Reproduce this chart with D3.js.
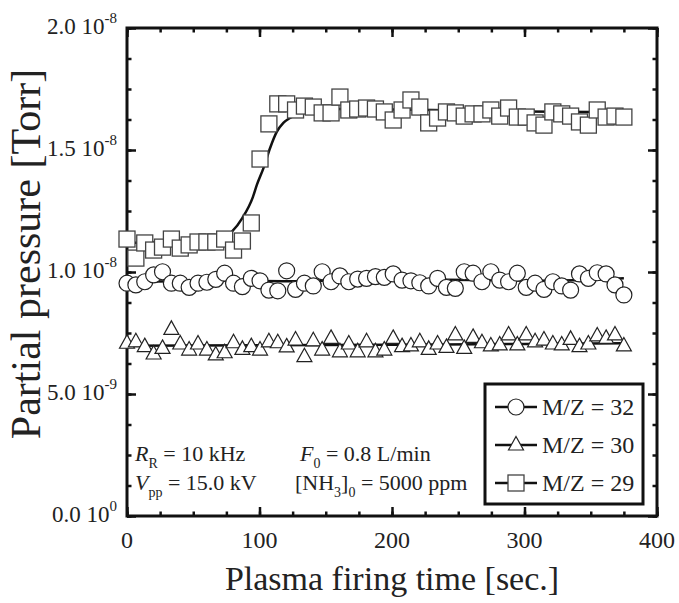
<!DOCTYPE html>
<html lang="en">
<head>
<meta charset="UTF-8">
<title>Partial pressure vs plasma firing time</title>
<style>
  body { margin: 0; background: #fff; }
  svg { display: block; font-family: "Liberation Serif", "Times New Roman", serif; }
</style>
</head>
<body>
<svg id="chart" width="679" height="603"></svg>
<script src="https://d3js.org/d3.v7.min.js"></script>
<script>
// sampling times [sec.]
var times = [0, 6.7, 13.4, 20.1, 26.8, 33.5, 40.2, 46.9, 53.6, 60.3, 67, 73.7, 80.4, 87.1, 93.8,
  100.4, 107.1, 113.8, 120.5, 127.2, 133.9, 140.6, 147.3, 154, 160.7, 167.4, 174.1, 180.8, 187.5,
  194.2, 200.9, 207.6, 214.3, 221, 227.7, 234.4, 241.1, 247.8, 254.5, 261.2, 267.9, 274.6, 281.3,
  288, 294.6, 301.3, 308, 314.7, 321.4, 328.1, 334.8, 341.5, 348.2, 354.9, 361.6, 368.3, 375];

// partial pressures, in units of 1e-9 Torr
var mz32 = [9.54, 9.47, 9.60, 9.88, 10.01, 9.54, 9.54, 9.37, 9.54, 9.58, 9.70, 9.95, 9.54, 9.40, 9.74,
  9.64, 9.26, 9.23, 10.05, 9.29, 9.54, 9.43, 10.01, 9.60, 9.84, 9.60, 9.71, 9.74, 9.81, 9.78, 9.92,
  9.67, 9.64, 9.56, 9.43, 9.74, 9.37, 9.33, 10.01, 9.95, 9.60, 10.01, 9.67, 9.60, 9.95, 9.37, 9.54,
  9.29, 9.60, 9.43, 9.26, 9.92, 9.74, 9.97, 9.92, 9.47, 9.06];
var mz30 = [7.08, 7.14, 6.94, 6.64, 6.87, 7.65, 7.05, 6.80, 7.05, 6.80, 6.60, 6.69, 7.10, 6.83, 6.94,
  6.80, 7.14, 7.10, 6.93, 7.21, 6.53, 7.18, 6.80, 7.28, 6.73, 7.05, 6.73, 7.14, 6.73, 6.80, 7.28,
  6.94, 6.97, 7.14, 6.83, 7.05, 6.91, 7.42, 6.87, 7.32, 7.10, 6.97, 7.01, 7.42, 7.01, 7.42, 7.14,
  7.21, 7.05, 7.01, 7.24, 6.94, 7.05, 7.38, 7.28, 7.42, 6.97];
var mz29 = [11.35, 10.57, 11.19, 10.90, 11.02, 11.35, 10.98, 11.11, 11.23, 11.23, 11.23, 11.35, 10.90,
  11.27, 12.01, 14.63, 16.07, 16.89, 16.89, 16.64, 16.80, 16.76, 16.52, 16.52, 17.17, 16.64, 16.68,
  16.72, 16.68, 16.56, 16.23, 16.64, 17.05, 16.76, 16.11, 16.31, 16.56, 16.52, 16.39, 16.48, 16.48,
  16.64, 16.39, 16.72, 16.35, 16.35, 16.11, 16.02, 16.56, 16.48, 16.39, 16.15, 16.02, 16.64, 16.35,
  16.39, 16.35];

// fitted curves
var fit32T = [0, 40, 80, 120, 160, 200, 240, 280, 320, 360, 375];
var fit32V = [9.60, 9.62, 9.64, 9.62, 9.66, 9.70, 9.68, 9.66, 9.64, 9.70, 9.74];
var fit30T = [0, 100, 200, 300, 375];
var fit30V = [6.98, 7.00, 7.02, 7.05, 7.08];
var fit29T = [0, 40, 60, 70, 79, 87, 95, 98, 103, 108, 113, 118, 123, 134, 153, 200, 250, 300, 375];
var fit29V = [11.20, 11.22, 11.25, 11.31, 11.64, 12.21, 13.07, 13.57, 14.26, 15.08, 15.74, 16.11,
  16.31, 16.56, 16.68, 16.66, 16.62, 16.58, 16.55];

var xTicks = [0, 100, 200, 300, 400];
var yTicks = [0, 5, 10, 15, 20];
var yTickMant = ["0.0 10", "5.0 10", "1.0 10", "1.5 10", "2.0 10"];
var yTickExp = ["0", "-9", "-8", "-8", "-8"];
var legendLabels = ["M/Z = 32", "M/Z = 30", "M/Z = 29"];

var svg = d3.select('#chart');
var plotL = 127, plotR = 657, plotT = 28, plotB = 516;

var x = d3.scaleLinear().domain([0, 400]).range([plotL, plotR]);
var y = d3.scaleLinear().domain([0, 20]).range([plotB, plotT]);

// ticks on all four sides, pointing inward
function tickAxis(axisFn, scale, transform, values, len) {
    var g = svg.append('g')
        .attr('transform', transform)
        .call(axisFn(scale).tickValues(values).tickSize(-len).tickFormat(''));
    g.select('.domain').remove();
    g.selectAll('line').attr('stroke', '#111').attr('stroke-width', 2.5);
}
var xMinor = d3.range(0, 401, 25);
var yMinor = d3.range(0, 20.01, 1.25);
tickAxis(d3.axisBottom, x, 'translate(0,' + plotB + ')', xMinor, 4.5);
tickAxis(d3.axisBottom, x, 'translate(0,' + plotB + ')', xTicks, 9);
tickAxis(d3.axisTop, x, 'translate(0,' + plotT + ')', xMinor, 4.5);
tickAxis(d3.axisTop, x, 'translate(0,' + plotT + ')', xTicks, 9);
tickAxis(d3.axisLeft, y, 'translate(' + plotL + ',0)', yMinor, 4.5);
tickAxis(d3.axisLeft, y, 'translate(' + plotL + ',0)', yTicks, 9);
tickAxis(d3.axisRight, y, 'translate(' + plotR + ',0)', yMinor, 4.5);
tickAxis(d3.axisRight, y, 'translate(' + plotR + ',0)', yTicks, 9);

// frame
svg.append('rect')
    .attr('x', plotL).attr('y', plotT)
    .attr('width', plotR - plotL).attr('height', plotB - plotT)
    .attr('fill', 'none').attr('stroke', '#111').attr('stroke-width', 3);

// x tick labels
svg.append('g').selectAll('text').data(xTicks).enter().append('text')
    .attr('x', function(d) { return x(d); })
    .attr('y', plotB + 32)
    .attr('text-anchor', 'middle')
    .attr('font-size', 24)
    .attr('fill', '#222')
    .text(function(d) { return d; });

// y tick labels with exponent
var yl = svg.append('g').selectAll('text').data(yTicks).enter().append('text')
    .attr('x', 117)
    .attr('y', function(d) { return y(d) + 6; })
    .attr('text-anchor', 'end')
    .attr('font-size', 23)
    .attr('fill', '#222');
yl.append('tspan').text(function(d, i) { return yTickMant[i]; });
yl.append('tspan').attr('dy', -11).attr('font-size', 15)
    .text(function(d, i) { return yTickExp[i]; });

// axis titles
svg.append('text')
    .attr('x', (plotL + plotR) / 2)
    .attr('y', 590)
    .attr('text-anchor', 'middle')
    .attr('font-size', 34)
    .attr('fill', '#222')
    .text('Plasma firing time [sec.]');

svg.append('text')
    .attr('transform', 'translate(40,' + ((plotT + plotB) / 2 - 18) + ') rotate(-90)')
    .attr('text-anchor', 'middle')
    .attr('font-size', 42)
    .attr('fill', '#222')
    .text('Partial pressure [Torr]');

// fitted lines
function fitLine(ts, vs) {
    var line = d3.line()
        .x(function(d, i) { return x(ts[i]); })
        .y(function(d) { return y(d); })
        .curve(d3.curveMonotoneX);
    svg.append('path').datum(vs)
        .attr('d', line)
        .attr('fill', 'none')
        .attr('stroke', '#111')
        .attr('stroke-width', 2.5);
}
fitLine(fit32T, fit32V);
fitLine(fit30T, fit30V);
fitLine(fit29T, fit29V);

// markers
var triPath = 'M0,-8.5L7.5,5L-7.5,5Z';
function drawCircle(g, cx, cy) {
    g.append('circle').attr('cx', cx).attr('cy', cy).attr('r', 8)
        .attr('fill', '#fff').attr('stroke', '#222').attr('stroke-width', 1.2);
}
function drawTri(g, cx, cy) {
    g.append('path').attr('d', triPath)
        .attr('transform', 'translate(' + cx + ',' + cy + ')')
        .attr('fill', '#fff').attr('stroke', '#222').attr('stroke-width', 1.2);
}
function drawSquare(g, cx, cy) {
    g.append('rect').attr('x', cx - 8).attr('y', cy - 8).attr('width', 16).attr('height', 16)
        .attr('fill', '#fff').attr('stroke', '#444').attr('stroke-width', 1.3);
}

var gm = svg.append('g');
times.forEach(function(t, i) { drawCircle(gm, x(t), y(mz32[i])); });
times.forEach(function(t, i) { drawTri(gm, x(t), y(mz30[i])); });
times.forEach(function(t, i) { drawSquare(gm, x(t), y(mz29[i])); });

// conditions text
var cond = svg.append('g').attr('font-size', 22).attr('fill', '#222');
var t1 = cond.append('text').attr('x', 135).attr('y', 461);
t1.append('tspan').attr('font-style', 'italic').text('R');
t1.append('tspan').attr('font-size', 14).attr('dy', 7).text('R');
t1.append('tspan').attr('dy', -7).text(' = 10 kHz');
var t2 = cond.append('text').attr('x', 300).attr('y', 461);
t2.append('tspan').attr('font-style', 'italic').text('F');
t2.append('tspan').attr('font-size', 14).attr('dy', 7).text('0');
t2.append('tspan').attr('dy', -7).text(' = 0.8 L/min');
var t3 = cond.append('text').attr('x', 135).attr('y', 490);
t3.append('tspan').attr('font-style', 'italic').text('V');
t3.append('tspan').attr('font-size', 14).attr('dy', 7).text('pp');
t3.append('tspan').attr('dy', -7).text(' = 15.0 kV');
var t4 = cond.append('text').attr('x', 295).attr('y', 490);
t4.append('tspan').text('[NH');
t4.append('tspan').attr('font-size', 14).attr('dy', 7).text('3');
t4.append('tspan').attr('dy', -7).text(']');
t4.append('tspan').attr('font-size', 14).attr('dy', 7).text('0');
t4.append('tspan').attr('dy', -7).text(' = 5000 ppm');

// legend
var lg = svg.append('g');
lg.append('rect').attr('x', 485).attr('y', 384).attr('width', 158).attr('height', 120)
    .attr('fill', '#fff').attr('stroke', '#111').attr('stroke-width', 3);
var rowY = [407, 445, 483];
var drawers = [drawCircle, drawTri, drawSquare];
legendLabels.forEach(function(lab, i) {
    lg.append('line').attr('x1', 495).attr('x2', 537).attr('y1', rowY[i]).attr('y2', rowY[i])
        .attr('stroke', '#111').attr('stroke-width', 2.5);
    drawers[i](lg, 516, rowY[i]);
    lg.append('text').attr('x', 542).attr('y', rowY[i] + 8)
        .attr('font-size', 24).attr('fill', '#222').text(lab);
});
</script>
</body>
</html>
